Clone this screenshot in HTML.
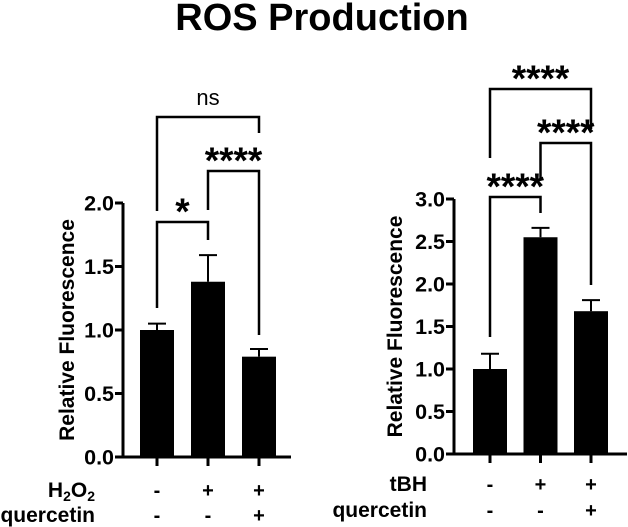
<!DOCTYPE html>
<html><head><meta charset="utf-8"><style>
html,body{margin:0;padding:0;background:#fff;width:628px;height:527px;overflow:hidden}
svg{display:block;font-family:"Liberation Sans",Arial,sans-serif;font-weight:bold}
</style></head><body>
<svg id="c" width="628" height="527" viewBox="0 0 628 527">
<text x="322" y="30" text-anchor="middle" font-size="38">ROS Production</text>
</svg>
<script>
const leftValues=[1.0,1.38,0.79];
const leftErrors=[0.05,0.21,0.06];
const rightValues=[1.0,2.55,1.68];
const rightErrors=[0.18,0.11,0.13];
const leftTicks=["0.0","0.5","1.0","1.5","2.0"];
const rightTicks=["0.0","0.5","1.0","1.5","2.0","2.5","3.0"];
const leftRow1=["-","+","+"];
const leftRow2=["-","-","+"];
const rightRow1=["-","+","+"];
const rightRow2=["-","-","+"];
const leftSig=["*","****","ns"];
const rightSig=["****","****","****"];

const svg=document.getElementById('c');
const NS="http://www.w3.org/2000/svg";
function mk(tag,attrs,parent){const e=document.createElementNS(NS,tag);for(const k in attrs)e.setAttribute(k,attrs[k]);(parent||svg).appendChild(e);return e;}

function panel(cfg){
  const g=mk('g',{});
  
  
  const y=v=>cfg.y0-(v/cfg.max)*(cfg.y0-cfg.yTop);
  const xc=i=>cfg.x0+i*cfg.step;
  const ya=mk('line',{x1:cfg.ax,y1:cfg.yTop,x2:cfg.ax,y2:cfg.y0+1.5,stroke:'#000','stroke-width':3},g);
  
  
  const xa=mk('line',{x1:cfg.ax-1.5,y1:cfg.y0,x2:cfg.axEnd,y2:cfg.y0,stroke:'#000','stroke-width':3},g);
  
  
  cfg.ticks.forEach((t,i)=>{
    const v=parseFloat(t),yy=y(v);
    mk('line',{x1:cfg.ax-8,y1:yy,x2:cfg.ax,y2:yy,stroke:'#000','stroke-width':3},g);
    const tx=mk('text',{x:cfg.ax-9,y:yy+7.5,'text-anchor':'end','font-size':21.5},g);
    tx.textContent=t;
    
    
  });
  const yt=mk('text',{x:0,y:0,'text-anchor':'middle','font-size':21,transform:`translate(${cfg.titleX},${(cfg.y0+cfg.yTop)/2}) rotate(-90)`},g);
  yt.textContent='Relative Fluorescence';
  
  
  cfg.values.forEach((v,i)=>{
    const cx=xc(i),bw=34;
    const r=mk('rect',{x:cx-bw/2,y:y(v),width:bw,height:cfg.y0-y(v),fill:'#000'},g);
    
    
    const e=cfg.errors[i];
    const eg=mk('path',{d:`M${cx} ${y(v)} V${y(v+e)} M${cx-9} ${y(v+e)} H${cx+9}`,stroke:'#000','stroke-width':2,fill:'none'},g);
    
    
    mk('line',{x1:cx,y1:cfg.y0,x2:cx,y2:cfg.y0+9,stroke:'#000','stroke-width':3},g);
    const a=mk('text',{x:cx,y:cfg.row1Y,'text-anchor':'middle','font-size':20},g);
    a.textContent=cfg.row1[i];
    
    
    const b=mk('text',{x:cx,y:cfg.row2Y,'text-anchor':'middle','font-size':20},g);
    b.textContent=cfg.row2[i];
    
    
  });
  cfg.brackets.forEach((br,k)=>{
    const p=mk('path',{d:`M${xc(br.a)} ${br.la} V${br.top} H${xc(br.b)} V${br.lb}`,stroke:'#000','stroke-width':2.5,fill:'none'},g);
    
    
    const isNs=cfg.sig[k]==='ns';
    const t=mk('text',{x:(xc(br.a)+xc(br.b))/2,y:br.top+(isNs?-12:2),'text-anchor':'middle','font-size':isNs?22:37,'font-weight':isNs?'normal':'bold'},g);
    t.textContent=cfg.sig[k];
    
    
  });
  cfg.labels.forEach(l=>{
    const t=mk('text',{x:l.x,y:l.y,'text-anchor':'end','font-size':21},g);
    t.innerHTML=l.html;
    
    
  });
}
panel({name:'left-panel-h2o2',values:leftValues,errors:leftErrors,ticks:leftTicks,max:2,y0:457,yTop:203,ax:123,axEnd:291,x0:157,step:51,titleX:74,
  row1:leftRow1,row2:leftRow2,row1Y:497,row2Y:522,sig:leftSig,
  brackets:[{a:0,b:1,top:222,la:308,lb:240},{a:1,b:2,top:171,la:210,lb:335},{a:0,b:2,top:117,la:211,lb:133}],
  labels:[{x:95,y:497,html:'H<tspan font-size="14" dy="4">2</tspan><tspan dy="-4">O</tspan><tspan font-size="14" dy="4">2</tspan>',name:'h2o2-row-label'},{x:95,y:522,html:'quercetin',name:'quercetin-row-label'}]});
panel({name:'right-panel-tbh',values:rightValues,errors:rightErrors,ticks:rightTicks,max:3,y0:454,yTop:199,ax:454,axEnd:627,x0:490,step:50.5,titleX:402,
  row1:rightRow1,row2:rightRow2,row1Y:491,row2Y:517,sig:rightSig,
  brackets:[{a:0,b:1,top:197,la:337,lb:213},{a:1,b:2,top:143,la:180,lb:285},{a:0,b:2,top:89,la:158,lb:129}],
  labels:[{x:427,y:491,html:'tBH',name:'tbh-row-label'},{x:427,y:517,html:'quercetin',name:'quercetin-row-label'}]});
</script>
</body></html>
